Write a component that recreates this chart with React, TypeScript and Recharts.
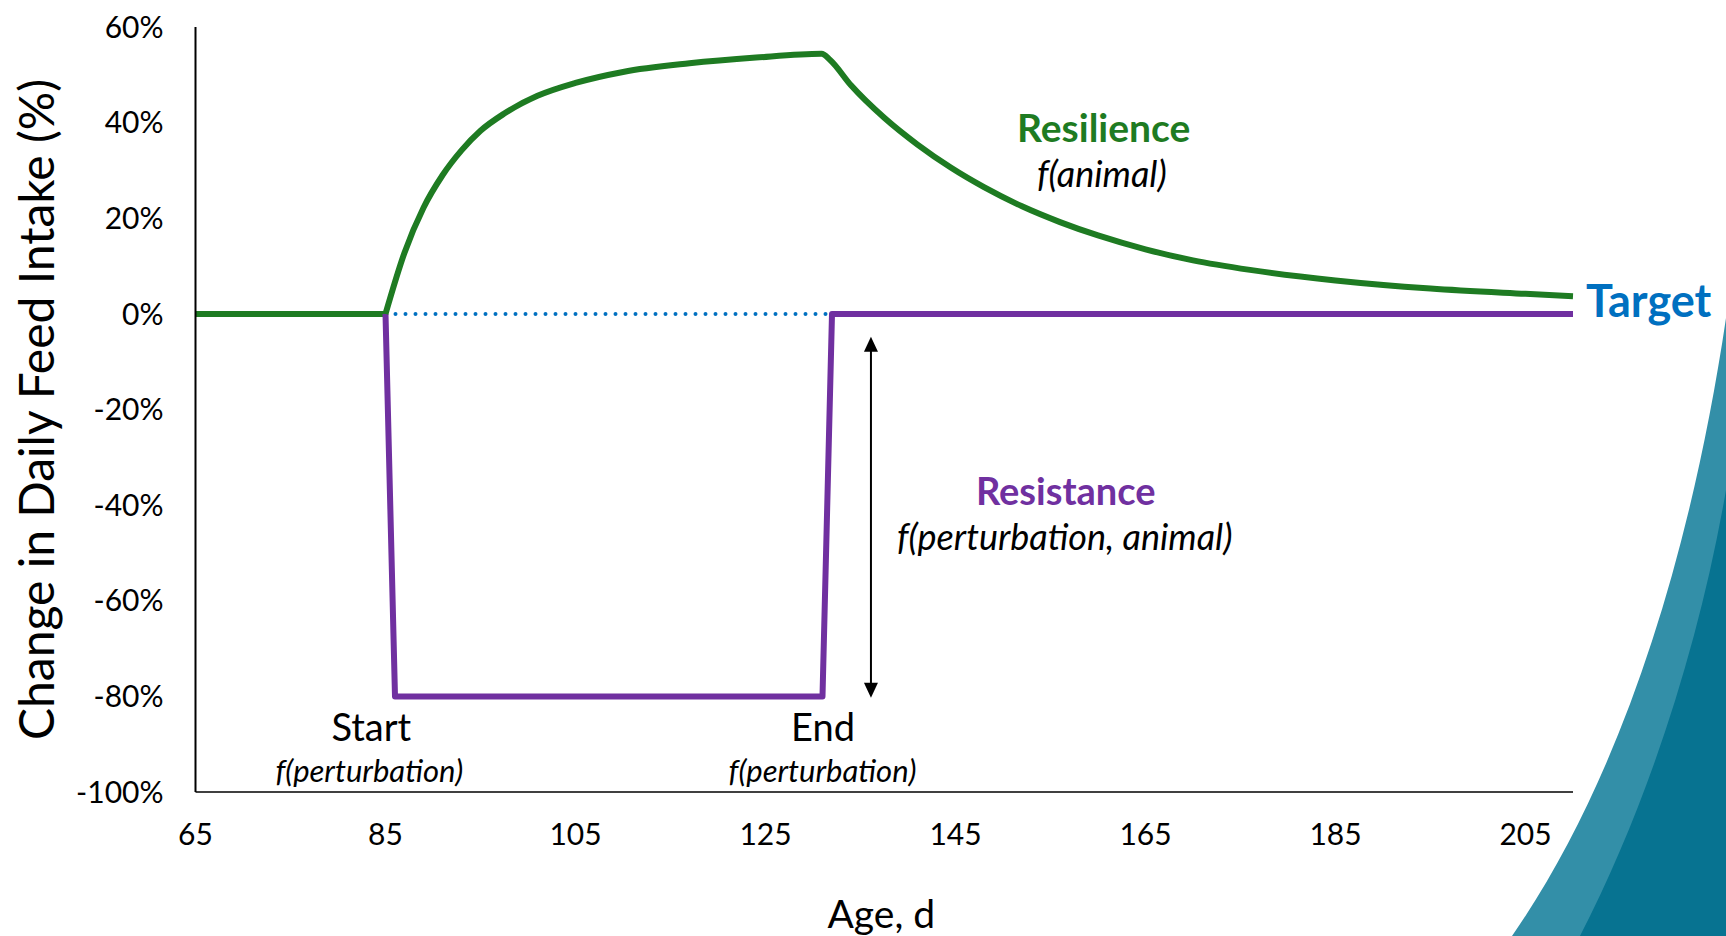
import { LineChart, Line, XAxis, YAxis, ReferenceDot, ReferenceLine } from "recharts";

// Age (days) and change in daily feed intake (%)
const resilienceDays = [65, 85, 87, 89, 91, 93, 95, 97.5, 101, 105, 110, 117, 124, 130.9, 131.8, 134, 137.5, 141, 144.5, 148, 152, 156, 160, 165, 170, 176, 185, 195, 205, 210];
const resilienceValues = [0, 0, 12.8, 22.2, 29, 34.2, 38.3, 41.9, 45.6, 48.3, 50.6, 52.4, 53.6, 54.4, 53.1, 47.8, 41, 35.4, 30.6, 26.5, 22.5, 19.2, 16.4, 13.5, 11.2, 9.2, 7, 5.3, 4.2, 3.7];

const resistanceDays = [85, 86, 131, 132, 210];
const resistanceValues = [0, -80, -80, 0, 0];

const targetDays = [85, 132];
const targetValues = [0, 0];

const xTicks = [65, 85, 105, 125, 145, 165, 185, 205];
const yTicks = [-100, -80, -60, -40, -20, 0, 20, 40, 60];

const rows = (days: number[], values: number[]) =>
  days.map((day, i) => ({ day, value: values[i] }));

const resilience = rows(resilienceDays, resilienceValues);
const resistance = rows(resistanceDays, resistanceValues);
const target = rows(targetDays, targetValues);

const GREEN = "#1E7B22";
const PURPLE = "#7030A0";
const BLUE = "#0070C0";

type Note = {
  x: number;
  y: number;
  text: string;
  color: string;
  size: number;
  bold?: boolean;
  italic?: boolean;
  anchor?: "start" | "middle" | "end";
  dx?: number;
  dy?: number;
};

const notes: Note[] = [
  { x: 160.6, y: 36, text: "Resilience", color: GREEN, size: 39, bold: true },
  { x: 160.4, y: 26.6, text: "f(animal)", color: "#000", size: 36, italic: true },
  { x: 156.6, y: -40, text: "Resistance", color: PURPLE, size: 38, bold: true },
  { x: 156.5, y: -49.4, text: "f(perturbation, animal)", color: "#000", size: 36, italic: true },
  { x: 83.5, y: -89.3, text: "Start", color: "#000", size: 38 },
  { x: 83.3, y: -97.9, text: "f(perturbation)", color: "#000", size: 31, italic: true },
  { x: 131.05, y: -89.3, text: "End", color: "#000", size: 38 },
  { x: 131.0, y: -97.9, text: "f(perturbation)", color: "#000", size: 31, italic: true },
  { x: 210, y: 0, text: "Target", color: BLUE, size: 45, bold: true, anchor: "start", dx: 13, dy: 3 },
];

const noteShape = (n: Note) => (p: any) => (
  <text
    x={p.cx + (n.dx || 0)}
    y={p.cy + (n.dy || 0)}
    textAnchor={n.anchor || "middle"}
    fill={n.color}
    fontSize={n.size}
    fontWeight={n.bold ? 700 : 400}
    fontStyle={n.italic ? "italic" : "normal"}
  >
    {n.text}
  </text>
);

const Arrow = (p: any) => {
  const x = p.x1;
  const top = Math.min(p.y1, p.y2);
  const bot = Math.max(p.y1, p.y2);
  const h = 15;
  const w = 7;
  return (
    <g>
      <line x1={x} y1={top + h - 1} x2={x} y2={bot - h + 1} stroke="#000" strokeWidth={2} />
      <polygon points={`${x},${top} ${x - w},${top + h} ${x + w},${top + h}`} fill="#000" />
      <polygon points={`${x},${bot} ${x - w},${bot - h} ${x + w},${bot - h}`} fill="#000" />
    </g>
  );
};

const yTitle = (p: any) => {
  const vb = p.viewBox || { y: 27, height: 765 };
  return (
    <text
      transform={`translate(54, ${vb.y + vb.height / 2}) rotate(-90)`}
      textAnchor="middle"
      fontSize={48}
      fill="#000"
    >
      Change in Daily Feed Intake (%)
    </text>
  );
};

const xTitle = (p: any) => {
  const vb = p.viewBox || { x: 195.5, width: 1377.5 };
  return (
    <text x={vb.x + vb.width / 2 - 3} y={928} textAnchor="middle" fontSize={39} fill="#000">
      Age, d
    </text>
  );
};

export default function App() {
  return (
    <div
      style={{
        position: "absolute",
        left: 0,
        top: 0,
        width: 1726,
        height: 936,
        background: "#fff",
        overflow: "hidden",
        fontFamily: "Lato, 'Open Sans', sans-serif",
      }}
    >
      <svg width={1726} height={936} style={{ position: "absolute", left: 0, top: 0 }}>
        <path d="M 1726 318 C 1690 560, 1620 780, 1512 936 L 1726 936 Z" fill="#338FA8" />
        <path d="M 1726 490 C 1700 640, 1650 800, 1580 936 L 1726 936 Z" fill="#077391" />
      </svg>
      <LineChart
        width={1726}
        height={936}
        margin={{ top: 27, right: 153, bottom: 44, left: 0 }}
        style={{ position: "absolute", left: 0, top: 0 }}
      >
        <XAxis
          dataKey="day"
          type="number"
          domain={[65, 210]}
          ticks={xTicks}
          height={100}
          tickLine={false}
          tickSize={0}
          tickMargin={32}
          axisLine={{ stroke: "#404040", strokeWidth: 2 }}
          tick={{ fill: "#000", fontSize: 30 }}
          label={xTitle}
        />
        <YAxis
          dataKey="value"
          type="number"
          domain={[-100, 60]}
          ticks={yTicks}
          width={195.5}
          tickLine={false}
          tickSize={0}
          tickMargin={32}
          axisLine={{ stroke: "#000", strokeWidth: 2 }}
          tick={{ fill: "#000", fontSize: 30 }}
          tickFormatter={(v: number) => `${v}%`}
          label={yTitle}
        />
        <Line
          data={target}
          dataKey="value"
          type="linear"
          stroke={BLUE}
          strokeWidth={4}
          strokeDasharray="0 10"
          strokeLinecap="round"
          dot={false}
          activeDot={false}
          isAnimationActive={false}
        />
        <Line
          data={resilience.slice(0, 2)}
          dataKey="value"
          type="linear"
          stroke={GREEN}
          strokeWidth={6}
          dot={false}
          activeDot={false}
          isAnimationActive={false}
        />
        <Line
          data={resistance}
          dataKey="value"
          type="linear"
          stroke={PURPLE}
          strokeWidth={6}
          strokeLinejoin="round"
          dot={false}
          activeDot={false}
          isAnimationActive={false}
        />
        <Line
          data={resilience.slice(1)}
          dataKey="value"
          type="monotoneX"
          stroke={GREEN}
          strokeWidth={6}
          dot={false}
          activeDot={false}
          isAnimationActive={false}
        />
        <ReferenceLine
          segment={[
            { x: 136.1, y: -4.8 },
            { x: 136.1, y: -80.3 },
          ]}
          ifOverflow="visible"
          shape={Arrow}
        />
        {notes.map((n, i) => (
          <ReferenceDot
            key={i}
            x={n.x}
            y={n.y}
            r={0}
            ifOverflow="visible"
            shape={noteShape(n)}
          />
        ))}
      </LineChart>
    </div>
  );
}
